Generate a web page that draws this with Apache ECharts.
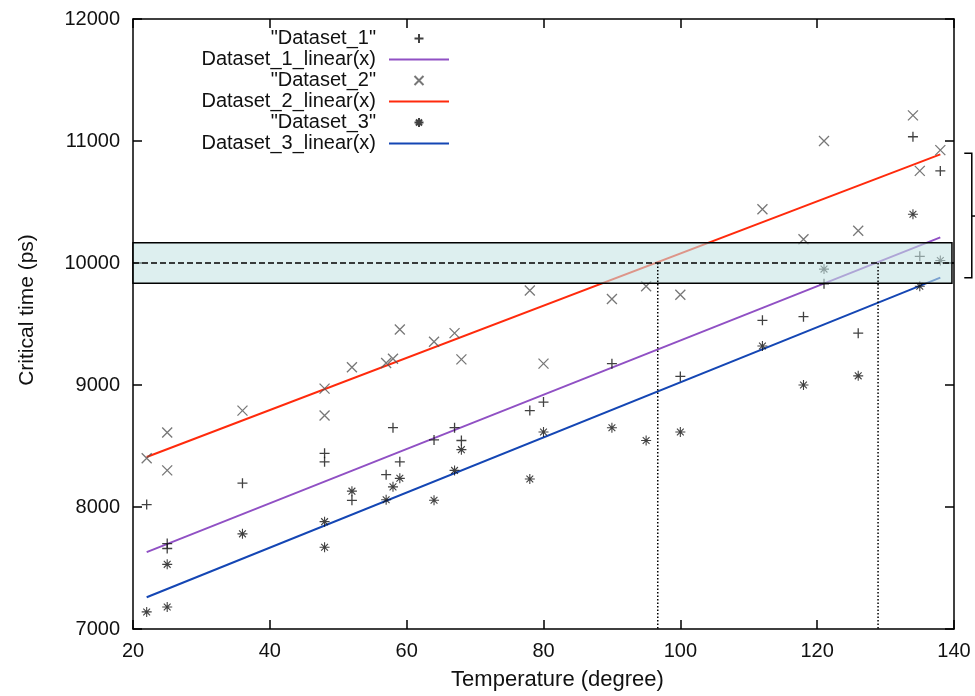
<!DOCTYPE html>
<html>
<head>
<meta charset="utf-8">
<script src="https://cdn.jsdelivr.net/npm/echarts@6/dist/echarts.min.js"></script>
<style>
  html, body { margin: 0; padding: 0; background: #fff; }
  #chart { width: 975px; height: 696px; }
</style>
</head>
<body>
<div id="chart"></div>
<script>
// Measured temperatures (degree), shared by the three datasets
const temperatures = [22, 25, 25, 36, 48, 48, 52, 57, 58, 59, 64, 67, 68, 78, 80, 90, 95, 100, 112, 118, 121, 126, 134, 135, 138];
// Critical time (ps) per temperature
const dataset1 = [8020, 7700, 7660, 8195, 8440, 8370, 8055, 8265, 8650, 8370, 8550, 8650, 8545, 8790, 8860, 9175, null, 9070, 9530, 9560, 9830, 9425, 11035, 10055, 10755];
const dataset2 = [8400, 8610, 8300, 8790, 8970, 8750, 9145, 9180, 9215, 9455, 9355, 9425, 9210, 9775, 9175, 9705, 9810, 9740, 10440, 10195, 11000, 10265, 11210, 10755, 10925];
const dataset3 = [7140, 7180, 7530, 7780, 7880, 7670, 8130, 8060, 8165, 8235, 8055, 8300, 8470, 8230, 8615, 8650, 8545, 8615, 9320, 9000, 9950, 9075, 10400, 9810, 10020];

// Linear fits: value at the first and last temperature
const fitRange = [22, 138];
const fit1 = [7630, 10210];
const fit2 = [8410, 10890];
const fit3 = [7260, 9880];

// Target critical time, its tolerance band and where fits reach it
const threshold = 10000;
const bandRange = [9835, 10165];
const bandX = [20, 139.7];
const crossings = [96.7, 128.9];

// Bracket beside the plot: low, middle and high values, and its x positions
const bracketY = [9880, 10385, 10900];
const bracketX = [141.5, 142.6, 143.3];

const xTicks = { min: 20, max: 140, interval: 20 };
const yTicks = { min: 7000, max: 12000, interval: 1000 };

const FONT = "'Liberation Sans', Arial, Helvetica, sans-serif";

const SYM_PLUS = 'path://M5,0L5,10M0,5L10,5';
const SYM_CROSS = 'path://M0,0L10,10M10,0L0,10';
const SYM_STAR = 'path://M5,0L5,10M0,5L10,5M1.6,1.6L8.4,8.4M8.4,1.6L1.6,8.4';

function points(values) {
  const out = [];
  temperatures.forEach((t, i) => { if (values[i] != null) out.push([t, values[i]]); });
  return out;
}
function fitLine(values) {
  return [[fitRange[0], values[0]], [fitRange[1], values[1]]];
}

const axisLine = { show: true, onZero: false, lineStyle: { color: '#000', width: 1.5 } };
const axisTick = { show: true, inside: true, length: 9, lineStyle: { color: '#000', width: 1.5 } };

const names = ['"Dataset_1"', 'Dataset_1_linear(x)', '"Dataset_2"', 'Dataset_2_linear(x)', '"Dataset_3"', 'Dataset_3_linear(x)'];
// fit entries show only their line sample in the key
const legendItems = names.map((n, i) => (i % 2 === 1 ? { name: n, itemStyle: { opacity: 0 } } : { name: n }));

const chart = echarts.init(document.getElementById('chart'), null, { renderer: 'canvas' });

chart.setOption({
  animation: false,
  backgroundColor: '#fff',
  grid: { left: 133, right: 21, top: 19, bottom: 65, containLabel: false },
  legend: {
    orient: 'vertical',
    right: 525,
    top: 28,
    align: 'right',
    padding: 0,
    itemGap: 0,
    itemWidth: 60,
    itemHeight: 9,
    selectedMode: false,
    textStyle: { fontFamily: FONT, fontSize: 20, color: '#111', lineHeight: 21, padding: [0, 8, 0, 0] },
    data: legendItems
  },
  xAxis: [
    {
      type: 'value', min: xTicks.min, max: xTicks.max, interval: xTicks.interval,
      position: 'bottom',
      axisLine, axisTick,
      splitLine: { show: false },
      axisLabel: { fontFamily: FONT, fontSize: 20, color: '#111', margin: 12 },
      name: 'Temperature (degree)', nameLocation: 'middle', nameGap: 40,
      nameTextStyle: { fontFamily: FONT, fontSize: 22, color: '#111', padding: [0, 0, 0, 28] }
    },
    {
      type: 'value', min: xTicks.min, max: xTicks.max, interval: xTicks.interval,
      position: 'top',
      axisLine, axisTick,
      splitLine: { show: false },
      axisLabel: { show: false }
    }
  ],
  yAxis: [
    {
      type: 'value', min: yTicks.min, max: yTicks.max, interval: yTicks.interval,
      position: 'left',
      axisLine, axisTick,
      splitLine: { show: false },
      axisLabel: { fontFamily: FONT, fontSize: 20, color: '#111', margin: 13, formatter: v => String(v) },
      name: 'Critical time (ps)', nameLocation: 'middle', nameGap: 95,
      nameTextStyle: { fontFamily: FONT, fontSize: 21, color: '#111', padding: [0, 0, 0, 28] }
    },
    {
      type: 'value', min: yTicks.min, max: yTicks.max, interval: yTicks.interval,
      position: 'right',
      axisLine, axisTick,
      splitLine: { show: false },
      axisLabel: { show: false }
    }
  ],
  series: [
    {
      name: names[0], type: 'scatter', z: 2,
      symbol: SYM_PLUS, symbolSize: 10, symbolKeepAspect: true,
      itemStyle: { color: 'rgba(0,0,0,0)', borderColor: '#111', borderWidth: 1.3 },
      data: points(dataset1)
    },
    {
      name: names[1], type: 'line', z: 2, symbol: 'none',
      lineStyle: { color: '#9050c4', width: 2 },
      itemStyle: { color: '#9050c4' },
      data: fitLine(fit1)
    },
    {
      name: names[2], type: 'scatter', z: 2,
      symbol: SYM_CROSS, symbolSize: 10, symbolKeepAspect: true,
      itemStyle: { color: 'rgba(0,0,0,0)', borderColor: '#555', borderWidth: 1.3 },
      data: points(dataset2)
    },
    {
      name: names[3], type: 'line', z: 2, symbol: 'none',
      lineStyle: { color: '#ff2a0c', width: 2 },
      itemStyle: { color: '#ff2a0c' },
      data: fitLine(fit2)
    },
    {
      name: names[4], type: 'scatter', z: 2,
      symbol: SYM_STAR, symbolSize: 10, symbolKeepAspect: true,
      itemStyle: { color: 'rgba(0,0,0,0)', borderColor: '#111', borderWidth: 1.1 },
      data: points(dataset3)
    },
    {
      name: names[5], type: 'line', z: 2, symbol: 'none',
      lineStyle: { color: '#1446b4', width: 2 },
      itemStyle: { color: '#1446b4' },
      data: fitLine(fit3)
    },
    // tolerance band, translucent over the data
    {
      type: 'custom', name: 'band', z: 3, silent: true, clip: false,
      data: [[bandX[0], bandRange[0], bandX[1], bandRange[1]]],
      renderItem: (params, api) => {
        const a = api.coord([api.value(0), api.value(3)]);
        const b = api.coord([api.value(2), api.value(1)]);
        return {
          type: 'rect',
          shape: { x: a[0], y: a[1], width: b[0] - a[0], height: b[1] - a[1] },
          style: { fill: 'rgba(196,228,228,0.58)', stroke: '#000', lineWidth: 1.5 }
        };
      }
    },
    // target line
    {
      type: 'line', name: 'target', z: 4, silent: true, symbol: 'none',
      lineStyle: { color: '#000', width: 1.5, type: [6, 3] },
      data: [[xTicks.min, threshold], [xTicks.max, threshold]]
    },
    // drop lines from the crossings to the temperature axis
    {
      type: 'custom', name: 'drops', z: 4, silent: true,
      data: crossings.map(t => [t, threshold]),
      renderItem: (params, api) => {
        const top = api.coord([api.value(0), api.value(1)]);
        const bottom = api.coord([api.value(0), yTicks.min]);
        return {
          type: 'line',
          shape: { x1: top[0], y1: top[1], x2: bottom[0], y2: bottom[1] },
          style: { stroke: '#000', lineWidth: 1.5, lineDash: [1.5, 2] }
        };
      }
    },
    // bracket to the right of the plot
    {
      type: 'custom', name: 'bracket', z: 4, silent: true, clip: false,
      data: [[bracketX[0], bracketY[0]]],
      renderItem: (params, api) => {
        const lowL = api.coord([bracketX[0], bracketY[0]]);
        const lowR = api.coord([bracketX[1], bracketY[0]]);
        const highR = api.coord([bracketX[1], bracketY[2]]);
        const highL = api.coord([bracketX[0], bracketY[2]]);
        const midR = api.coord([bracketX[1], bracketY[1]]);
        const tip = api.coord([bracketX[2], bracketY[1]]);
        return {
          type: 'group',
          children: [
            { type: 'polyline', shape: { points: [highL, highR, lowR, lowL] }, style: { stroke: '#000', lineWidth: 1.5, fill: null } },
            { type: 'line', shape: { x1: midR[0], y1: midR[1], x2: tip[0], y2: tip[1] }, style: { stroke: '#000', lineWidth: 1.5 } }
          ]
        };
      }
    }
  ]
});
</script>
</body>
</html>
